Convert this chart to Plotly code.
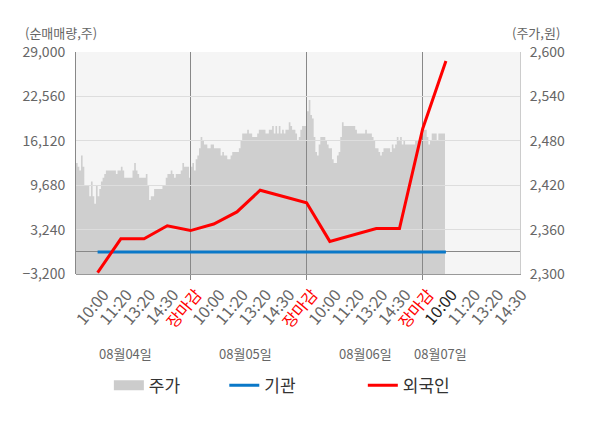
import numpy as np
import plotly.graph_objects as go

# x 축 눈금 (슬롯 0..18)
tick_labels = ["10:00", "11:20", "13:20", "14:30", "장마감",
               "10:00", "11:20", "13:20", "14:30", "장마감",
               "10:00", "11:20", "13:20", "14:30", "장마감",
               "10:00", "11:20", "13:20", "14:30"]
date_labels = ["08월04일", "08월05일", "08월06일", "08월07일"]

# 순매매량 (주), 슬롯 0..15
slots = list(range(16))
foreign = [-3000, 1900, 1900, 3800, 3100, 4050, 5800, 8950,
           8050, 7130, 1530, 2440, 3390, 3390, 17880, 27700]
institution = [0, 0, 0, 0, 0, 0, 0, 0, 0, 0, 0, 0, 0, 0, 0, 0]

# 주가 (원), 분 단위 샘플
price = [
    2450, 2445, 2440, 2460, 2445, 2420, 2420, 2420, 2405, 2425,
    2405, 2395, 2420, 2405, 2415, 2425, 2430, 2435, 2440, 2440,
    2440, 2440, 2440, 2440, 2435, 2440, 2440, 2445, 2440, 2430,
    2430, 2430, 2430, 2430, 2440, 2450, 2440, 2435, 2430, 2430,
    2430, 2430, 2435, 2420, 2400, 2405, 2405, 2415, 2415, 2415,
    2415, 2415, 2420, 2420, 2430, 2435, 2435, 2440, 2435, 2430,
    2435, 2435, 2435, 2440, 2450, 2445, 2445, 2445, 2430, 2445,
    2450, 2440, 2455, 2460,
    2470, 2485, 2480, 2475, 2475, 2470, 2470, 2475, 2475, 2470,
    2470, 2470, 2470, 2460, 2465, 2460, 2460, 2455, 2455, 2460,
    2465, 2465, 2465, 2465, 2470, 2480, 2490, 2490, 2490, 2495,
    2490, 2490, 2485, 2485, 2485, 2490, 2495, 2495, 2495, 2495,
    2490, 2490, 2495, 2495, 2500, 2490, 2500, 2490, 2500, 2490,
    2495, 2490, 2495, 2495, 2505, 2500, 2495, 2495, 2490, 2480,
    2485, 2495, 2500, 2500, 2500, 2520, 2535, 2515, 2510, 2485,
    2465, 2460, 2475, 2485,
    2485, 2485, 2480, 2475, 2470, 2470, 2455, 2450, 2450, 2460,
    2465, 2485, 2505, 2500, 2500, 2500, 2500, 2500, 2500, 2500,
    2495, 2490, 2490, 2490, 2490, 2490, 2495, 2490, 2490, 2490,
    2485, 2480, 2470, 2470, 2465, 2460, 2465, 2470, 2470, 2470,
    2470, 2465, 2475, 2470, 2475, 2485, 2480, 2485, 2475, 2480,
    2475, 2475, 2475, 2475, 2475, 2475, 2480, 2480, 2480, 2485,
    2490, 2495, 2495, 2485, 2475, 2480, 2490, 2490, 2490, 2480,
    2490, 2490, 2490, 2490, 2485,
]
price_x = np.linspace(-0.93, 14.96, len(price))

left_ticks = [-3200, 3240, 9680, 16120, 22560, 29000]
right_ticks = [2300, 2360, 2420, 2480, 2540, 2600]

ticktext = []
for i, t in enumerate(tick_labels):
    if t == "장마감":
        ticktext.append('<span style="color:#ff0000">' + t + '</span>')
    elif i == 15:
        ticktext.append('<span style="color:#222222">' + t + '</span>')
    else:
        ticktext.append(t)

fig = go.Figure()
fig.add_trace(go.Scatter(x=price_x, y=price, mode="lines", line=dict(width=0, shape="hv"),
                         fill="tozeroy", fillcolor="#cfcfcf", showlegend=False,
                         xaxis="x", yaxis="y", hoverinfo="skip"))
# 범례용
fig.add_trace(go.Scatter(x=[None], y=[None], mode="lines", name="주가",
                         line=dict(color="#cccccc", width=13), legend="legend",
                         xaxis="x", yaxis="y"))
fig.add_trace(go.Scatter(x=slots, y=institution, mode="lines", name="기관",
                         line=dict(color="#0a78c8", width=3), legend="legend2",
                         xaxis="x2", yaxis="y2"))
fig.add_trace(go.Scatter(x=slots, y=foreign, mode="lines", name="외국인",
                         line=dict(color="#ff0000", width=3), legend="legend3",
                         xaxis="x2", yaxis="y2"))

xr = [-0.93, 18.19]
leg = dict(y=-0.503, xanchor="left", yanchor="middle", orientation="h",
           font=dict(size=17, color="#333333"), bgcolor="rgba(0,0,0,0)")
# 페이지 본문 여백(8px)을 감안한 마진
fig.update_layout(
    width=600, height=428,
    margin=dict(l=68, r=88, t=44, b=162, autoexpand=False),
    paper_bgcolor="white",
    plot_bgcolor="rgba(0,0,0,0)",
    font=dict(family="Noto Sans CJK KR", color="#666666", size=13),
    xaxis=dict(domain=[0, 1], anchor="y", range=xr, tickmode="array",
               tickvals=list(range(len(tick_labels))), ticktext=ticktext,
               tickangle=-50, tickfont=dict(size=16, color="#666666"),
               ticklabelshift=6, ticklabelstandoff=4,
               showgrid=False, zeroline=False, showline=True, linecolor="#999999",
               ticks=""),
    yaxis=dict(domain=[0, 1], anchor="x", side="right", range=[2300, 2600],
               tickvals=right_ticks, tickformat=",", tickfont=dict(size=14),
               ticklabelstandoff=6,
               showgrid=False, zeroline=False, showline=True, linecolor="#cccccc",
               ticks=""),
    xaxis2=dict(domain=[0, 1], anchor="y2", range=xr, matches="x",
                tickmode="array", tickvals=[4, 9, 14], showticklabels=False,
                showgrid=True, gridcolor="#888888", gridwidth=1,
                ticks="outside", ticklen=5, tickcolor="#888888",
                showline=False, zeroline=False),
    yaxis2=dict(domain=[0, 1], anchor="x2", side="left", range=[-3200, 29000],
                tickvals=left_ticks, tickformat=",", tickfont=dict(size=14),
                ticklabelstandoff=7,
                showgrid=True, gridcolor="#dddddd", gridwidth=1,
                zeroline=True, zerolinecolor="#888888", zerolinewidth=1,
                showline=True, linecolor="#888888", ticks=""),
    shapes=[dict(type="rect", xref="paper", yref="paper", x0=0, x1=1, y0=0, y1=1,
                 fillcolor="#f5f5f5", line=dict(width=0), layer="below")],
    legend=dict(leg, x=0.074),
    legend2=dict(leg, x=0.334),
    legend3=dict(leg, x=0.646),
)

date_pos = [1.19, 6.36, 11.52, 14.77]
for d, xp in zip(date_labels, date_pos):
    fig.add_annotation(x=xp, xref="x", y=-0.356, yref="paper", yanchor="middle",
                       xanchor="center", text=d, showarrow=False,
                       font=dict(size=13, color="#666666"))
fig.add_annotation(x=-0.034, xref="paper", y=1.086, yref="paper", yanchor="middle",
                   xanchor="center", text="(순매매량,주)", showarrow=False,
                   font=dict(size=13, color="#666666"))
fig.add_annotation(x=1.035, xref="paper", y=1.086, yref="paper", yanchor="middle",
                   xanchor="center", text="(주가,원)", showarrow=False,
                   font=dict(size=13, color="#666666"))

fig.write_html("out.html")
